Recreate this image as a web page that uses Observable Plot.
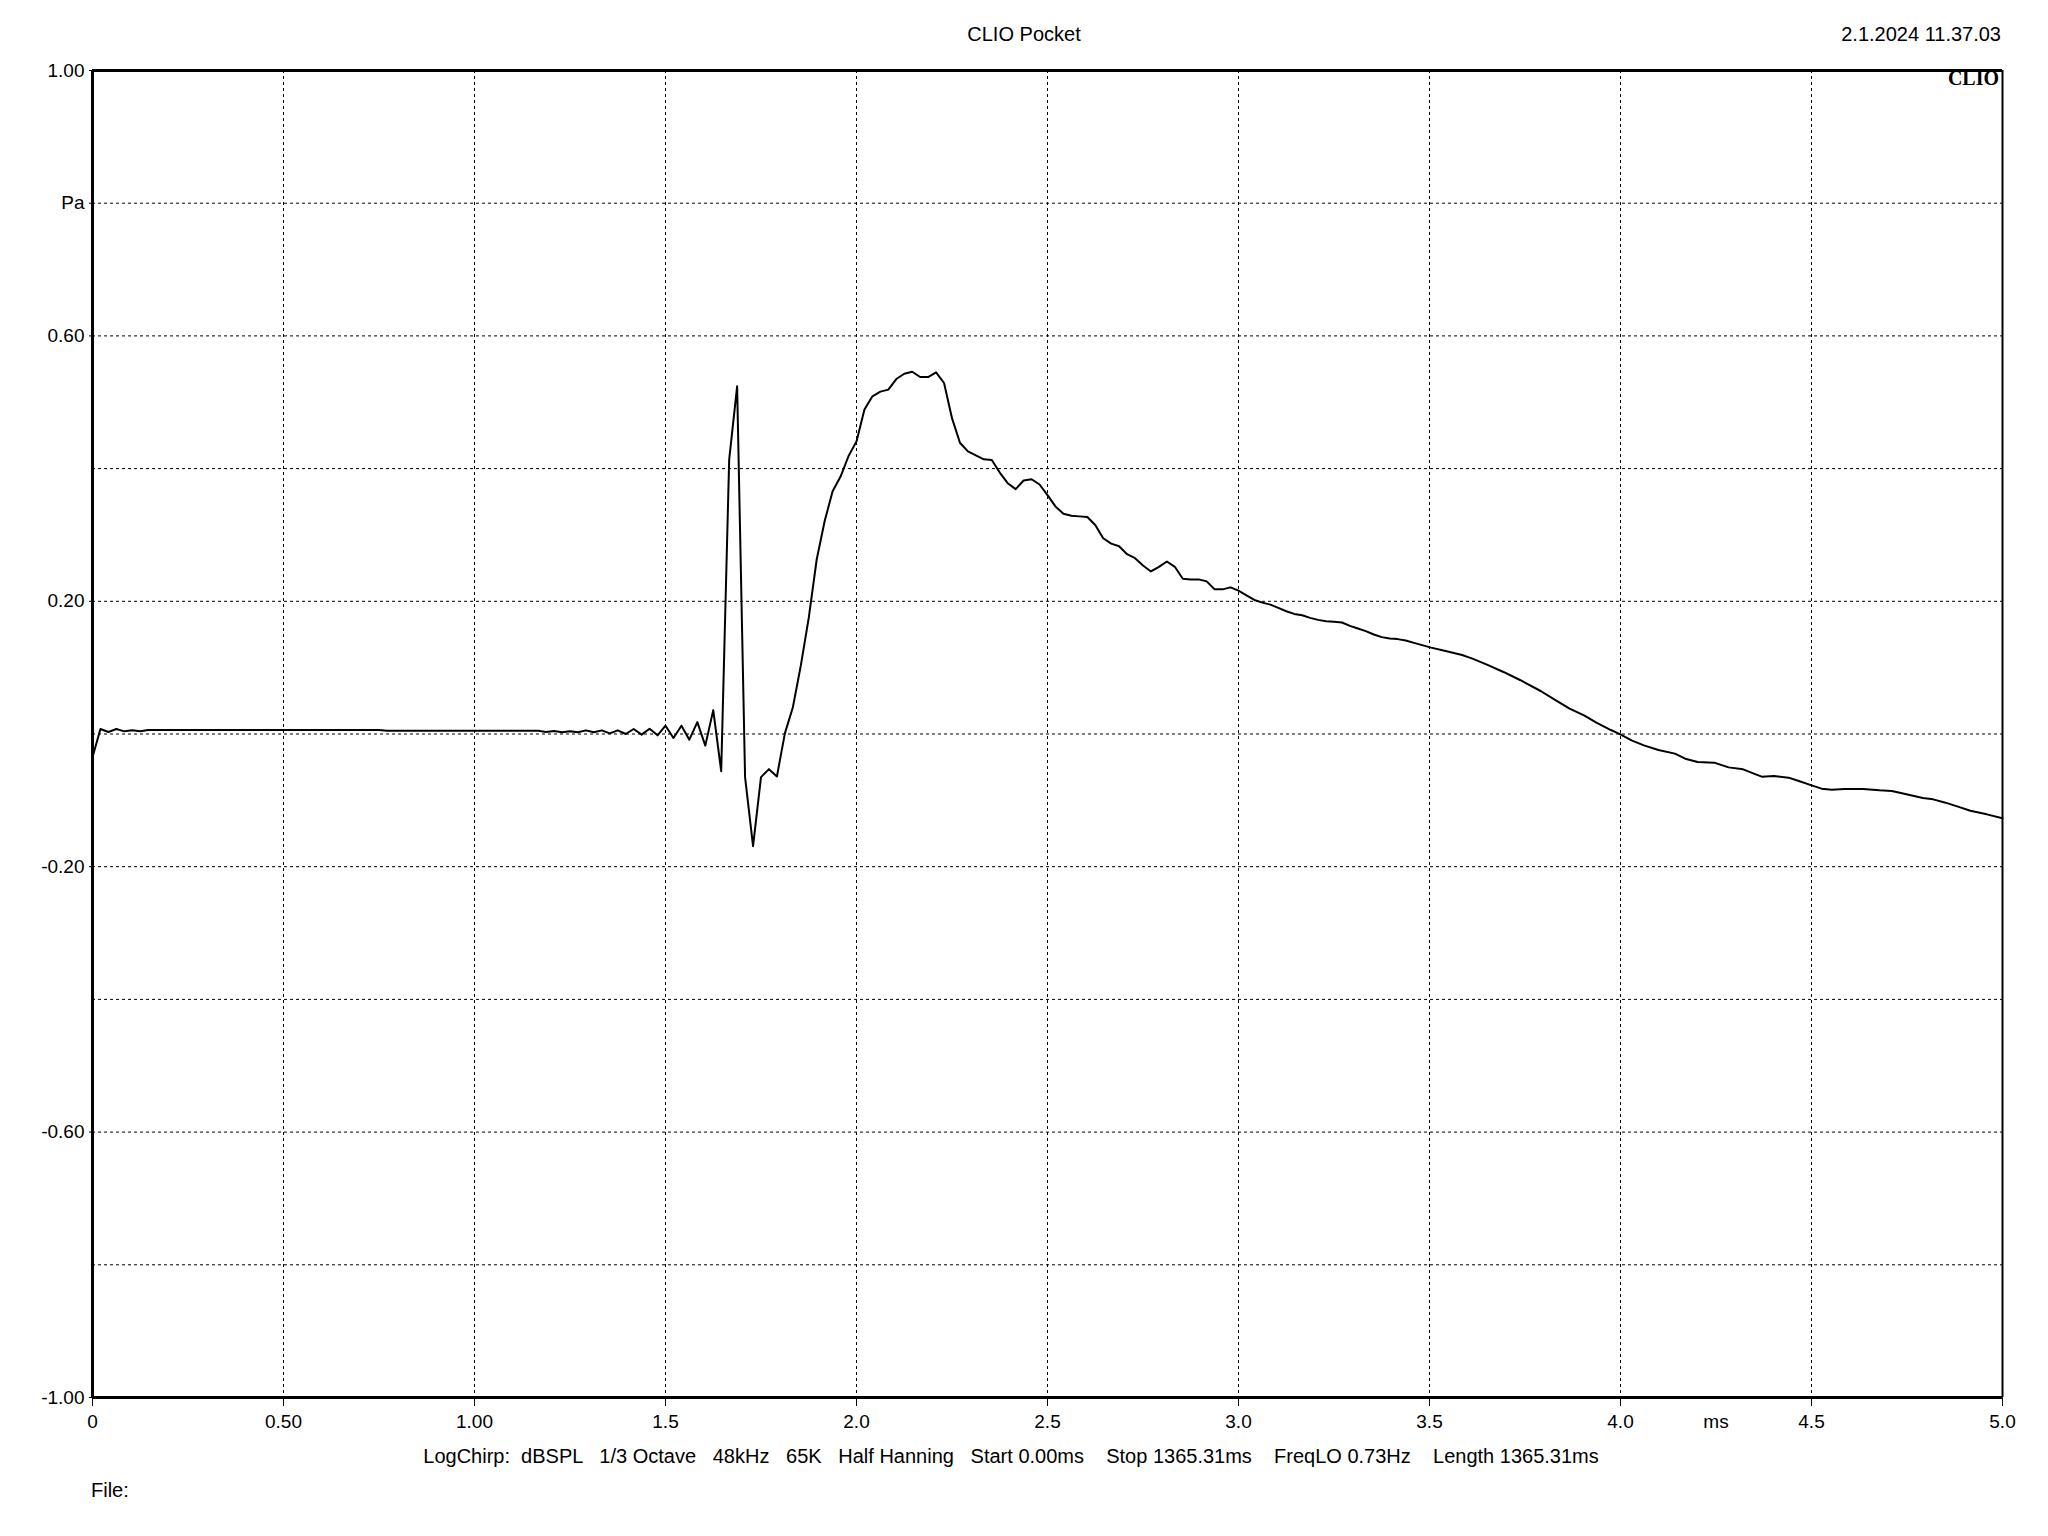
<!DOCTYPE html>
<html><head><meta charset="utf-8">
<script src="https://cdn.jsdelivr.net/npm/d3@7"></script>
<script src="https://cdn.jsdelivr.net/npm/@observablehq/plot@0.6"></script>
<style>
body{margin:0;background:#fff;font-family:"Liberation Sans",Arial,sans-serif;}
#wrap{position:relative;width:2048px;height:1536px;overflow:hidden;}
#wrap svg{position:absolute;left:0;top:0;}
.t{position:absolute;font-size:20px;color:#000;white-space:pre;line-height:20px;}
</style></head><body><div id="wrap"></div>
<script>
const titleText = "CLIO Pocket";
const dateText = "2.1.2024 11.37.03";
const logoText = "CLIO";
const infoText = "LogChirp:  dBSPL   1/3 Octave   48kHz   65K   Half Hanning   Start 0.00ms    Stop 1365.31ms    FreqLO 0.73Hz    Length 1365.31ms";
const fileText = "File:";

const timeMs = [
 0, 0.0208, 0.0417, 0.0625, 0.0833, 0.1042, 0.125, 0.1458, 0.75, 0.7708, 1.1667,
 1.1875, 1.2083, 1.2292, 1.25, 1.2708, 1.2917, 1.3125, 1.3333, 1.3542, 1.375,
 1.3958, 1.4167, 1.4375, 1.4583, 1.4792, 1.5, 1.5208, 1.5417, 1.5625, 1.5833,
 1.6042, 1.625, 1.6458, 1.6667, 1.6875, 1.7083, 1.7292, 1.75, 1.7708, 1.7917,
 1.8125, 1.8333, 1.8542, 1.875, 1.8958, 1.9167, 1.9375, 1.9583, 1.9792, 2.0,
 2.0208, 2.0417, 2.0625, 2.0833, 2.1042, 2.125, 2.1458, 2.1667, 2.1875, 2.2083,
 2.2292, 2.25, 2.2708, 2.2917, 2.3125, 2.3333, 2.3542, 2.375, 2.3958, 2.4167,
 2.4375, 2.4583, 2.4792, 2.5, 2.5208, 2.5417, 2.5625, 2.5833, 2.6042, 2.625,
 2.6458, 2.6667, 2.6875, 2.7083, 2.7292, 2.75, 2.7708, 2.7917, 2.8125, 2.8333,
 2.8542, 2.875, 2.8958, 2.9167, 2.9375, 2.9583, 2.9792, 3.0, 3.0208, 3.0417,
 3.0625, 3.0833, 3.1042, 3.125, 3.1458, 3.1667, 3.1875, 3.2083, 3.2292, 3.25,
 3.2708, 3.2917, 3.3125, 3.3333, 3.3542, 3.375, 3.3958, 3.4167, 3.4375,
 3.4665, 3.5043, 3.5422, 3.5854, 3.6125, 3.6503, 3.6936, 3.7369, 3.7909, 3.8288,
 3.8667, 3.9045, 3.9369, 3.9748, 3.9997, 4.0289, 4.0613, 4.0992, 4.1424, 4.1695,
 4.2019, 4.2452, 4.2831, 4.3209, 4.3425, 4.3696, 4.4020, 4.4399, 4.4669, 4.5004,
 4.5264, 4.5534, 4.5859, 4.6345, 4.6778, 4.7102, 4.7427, 4.7914, 4.8184, 4.8508,
 4.8833, 4.9158, 4.9590, 5.0
];
const pressurePa = [
 -0.035, 0.0075, 0.003, 0.0075, 0.004, 0.0055, 0.004, 0.006, 0.006, 0.005, 0.005,
 0.003, 0.0045, 0.0025, 0.004, 0.0025, 0.0055, 0.0025, 0.0055, 0.001, 0.0055,
 0.0, 0.0075, -0.001, 0.008, -0.002, 0.0125, -0.006, 0.0125, -0.0085, 0.018,
 -0.0175, 0.036, -0.056, 0.4135, 0.524, -0.065, -0.169, -0.065, -0.053, -0.064,
 0.001, 0.040, 0.103, 0.175, 0.263, 0.321, 0.366, 0.388, 0.419, 0.441,
 0.489, 0.509, 0.516, 0.519, 0.535, 0.543, 0.546, 0.538, 0.538, 0.545,
 0.529, 0.476, 0.439, 0.426, 0.420, 0.414, 0.413, 0.394, 0.378, 0.369,
 0.382, 0.384, 0.376, 0.360, 0.343, 0.332, 0.329, 0.328, 0.327, 0.315,
 0.295, 0.287, 0.283, 0.271, 0.265, 0.254, 0.245, 0.252, 0.260, 0.252,
 0.234, 0.233, 0.233, 0.230, 0.218, 0.218, 0.221, 0.216, 0.209, 0.202,
 0.198, 0.195, 0.190, 0.185, 0.181, 0.179, 0.175, 0.172, 0.170, 0.169,
 0.168, 0.163, 0.159, 0.155, 0.150, 0.146, 0.144, 0.143, 0.141,
 0.1362, 0.1302, 0.1251, 0.1191, 0.1136, 0.1045, 0.0935, 0.0814, 0.0648, 0.0513,
 0.0382, 0.0281, 0.0171, 0.0060, -0.0005, -0.0095, -0.0171, -0.0241, -0.0296, -0.0372,
 -0.0422, -0.0432, -0.0503, -0.0533, -0.0583, -0.0643, -0.0633, -0.0658, -0.0709, -0.0774,
 -0.0824, -0.0839, -0.0829, -0.0829, -0.0849, -0.0859, -0.0899, -0.0965, -0.0985, -0.1035,
 -0.1095, -0.1156, -0.1211, -0.1271
];

const xTicks = [0, 0.5, 1, 1.5, 2, 2.5, 3, 3.5, 4, 4.5, 5];
const xTickLabels = ["0", "0.50", "1.00", "1.5", "2.0", "2.5", "3.0", "3.5", "4.0", "4.5", "5.0"];
const xUnit = "ms";
const xUnitAt = 4.25;
const yTicks = [1, 0.8, 0.6, 0.2, -0.2, -0.6, -1];
const yTickLabels = ["1.00", "Pa", "0.60", "0.20", "-0.20", "-0.60", "-1.00"];
const yGrid = [-0.8, -0.6, -0.4, -0.2, 0, 0.2, 0.4, 0.6, 0.8];
const xGrid = [0.5, 1, 1.5, 2, 2.5, 3, 3.5, 4, 4.5];

const data = timeMs.map((t, i) => ({t, v: pressurePa[i]}));

const chart = Plot.plot({
  width: 2048, height: 1536,
  marginLeft: 92, marginRight: 46, marginTop: 70, marginBottom: 139,
  style: {fontFamily: "'Liberation Sans', Arial, sans-serif", fontSize: "19px", background: "transparent", color: "black"},
  x: {domain: [0, 5]},
  y: {domain: [-1, 1]},
  marks: [
    Plot.ruleX(xGrid, {stroke: "black", strokeWidth: 1, strokeDasharray: "3,3"}),
    Plot.ruleY(yGrid, {stroke: "black", strokeWidth: 1, strokeDasharray: "3,3"}),
    Plot.line(data, {x: "t", y: "v", stroke: "black", strokeWidth: 2}),
    Plot.ruleY([1, -1], {stroke: "black", strokeWidth: 3}),
    Plot.ruleX([0], {stroke: "black", strokeWidth: 3}),
    Plot.ruleX([5], {stroke: "black", strokeWidth: 2}),
    Plot.axisX({ticks: xTicks, tickFormat: d => xTickLabels[xTicks.indexOf(d)], tickSize: 9, tickPadding: 8, label: null, stroke: "black"}),
    Plot.axisY({ticks: yTicks, tickFormat: d => yTickLabels[yTicks.indexOf(d)], tickSize: 6, tickPadding: 2, label: null, strokeDasharray: "3,3"}),
    Plot.text([xUnit], {x: () => xUnitAt, text: d => d, frameAnchor: "bottom", lineAnchor: "top", dy: 17, fontSize: 19, fill: "black"})
  ]
});

const wrap = document.getElementById("wrap");
wrap.appendChild(chart);

function addText(txt, css) {
  const d = document.createElement("div");
  d.className = "t";
  d.textContent = txt;
  Object.assign(d.style, css);
  wrap.appendChild(d);
  return d;
}
addText(titleText, {top: "24px", left: "1024px", transform: "translateX(-50%)"});
addText(dateText, {top: "24px", right: "47px"});
addText(logoText, {top: "68px", right: "49px", fontFamily: "'Liberation Serif', 'Times New Roman', serif", fontWeight: "bold"});
addText(infoText, {top: "1446px", left: "1011px", transform: "translateX(-50%)"});
addText(fileText, {top: "1480px", left: "91px"});
</script>
</body></html>
